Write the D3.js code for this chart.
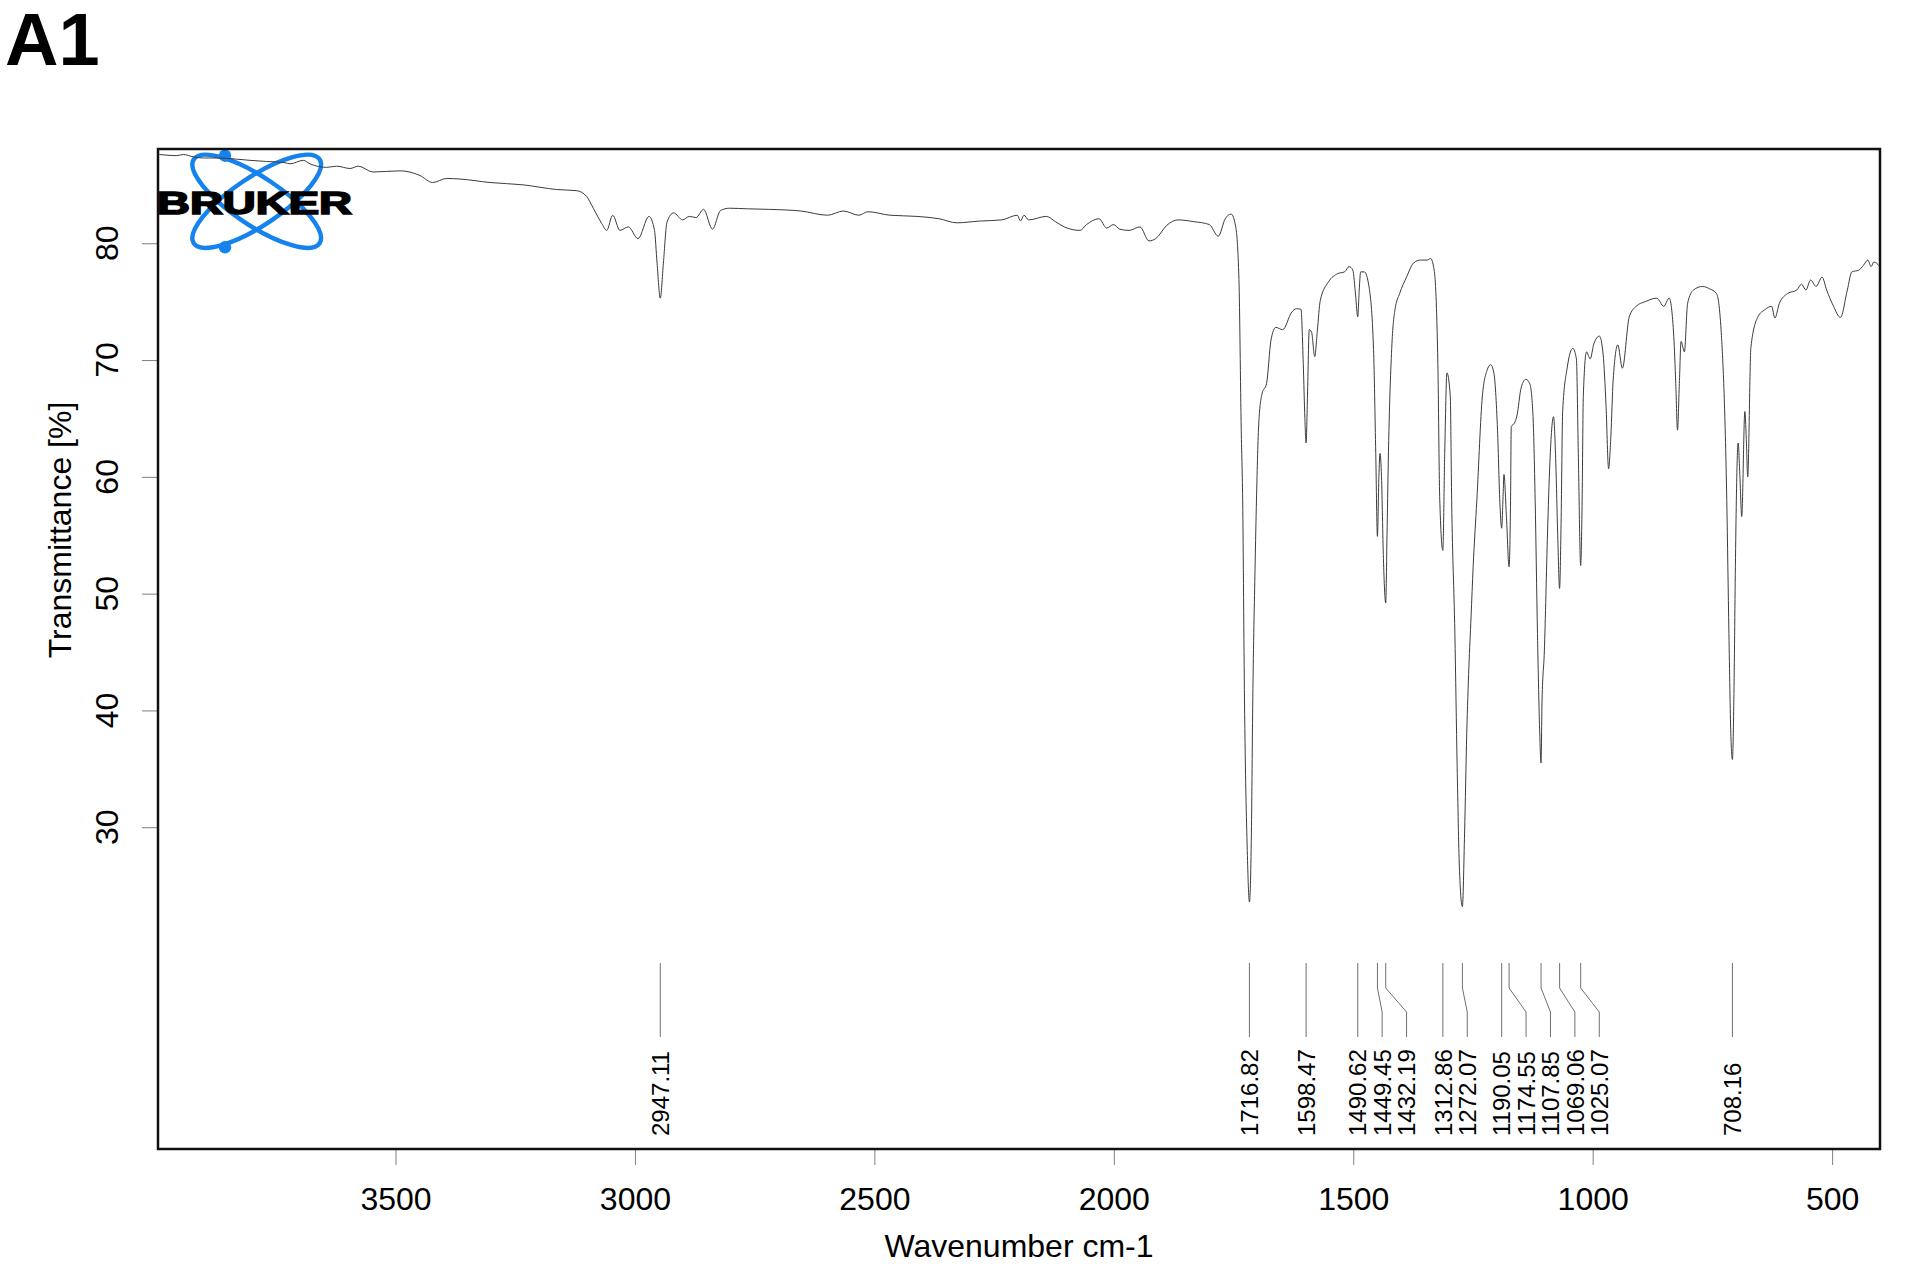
<!DOCTYPE html>
<html>
<head>
<meta charset="utf-8">
<script src="https://cdn.jsdelivr.net/npm/d3@7"></script>
<style>
  body { margin: 0; background: #fff; }
  svg { display: block; font-family: "Liberation Sans", Arial, Helvetica, sans-serif; }
</style>
</head>
<body>
<svg id="chart" width="1920" height="1283"></svg>
<script>
// spectrum: wavenumber (cm-1) / transmittance (%)
const wavenumber = [
  3993.3, 3956.9, 3943.2, 3922.3, 3901.4, 3873.4, 3831.7, 3803.9, 3769.0, 3730.8,
  3720.4, 3692.6, 3678.6, 3643.7, 3622.8, 3595.1, 3577.7, 3547.0, 3490.7, 3448.9,
  3422.4, 3393.1, 3365.4, 3302.7, 3233.2, 3163.4, 3121.7, 3100.8, 3087.0, 3069.5,
  3059.0, 3046.5, 3031.3, 3013.9, 2993.6, 2970.7, 2959.2, 2953.8, 2947.1, 2940.6,
  2933.1, 2919.1, 2900.5, 2886.5, 2872.6, 2856.7, 2838.1, 2821.4, 2802.6, 2765.4,
  2718.8, 2653.5, 2597.6, 2564.9, 2532.2, 2513.6, 2467.4, 2411.0, 2365.1, 2327.5,
  2280.5, 2234.0, 2201.4, 2194.9, 2187.6, 2178.0, 2140.8, 2122.0, 2103.5, 2070.7,
  2056.9, 2031.0, 2014.9, 2000.9, 1987.1, 1968.3, 1945.4, 1926.6, 1912.4, 1889.0,
  1866.0, 1833.0, 1800.5, 1781.9, 1767.3, 1755.0, 1745.4, 1738.7, 1733.9, 1730.9,
  1727.1, 1721.3, 1716.8, 1712.7, 1709.8, 1705.0, 1702.1, 1697.3, 1690.6, 1681.0,
  1671.8, 1661.8, 1647.4, 1628.4, 1618.8, 1609.2, 1604.4, 1601.0, 1598.5, 1595.5,
  1591.9, 1587.1, 1580.4, 1575.0, 1568.9, 1551.6, 1532.4, 1518.2, 1508.6, 1500.9,
  1495.0, 1490.6, 1487.5, 1484.5, 1476.8, 1467.2, 1457.6, 1453.0, 1449.5, 1446.5,
  1444.2, 1441.0, 1437.0, 1432.2, 1429.5, 1426.9, 1419.2, 1412.9, 1403.1, 1388.7,
  1374.2, 1359.8, 1345.4, 1338.7, 1331.0, 1323.3, 1319.5, 1312.9, 1309.0, 1304.3,
  1297.4, 1294.5, 1287.8, 1283.0, 1278.4, 1272.1, 1267.5, 1263.0, 1258.5, 1254.0,
  1249.6, 1241.9, 1230.4, 1220.8, 1213.1, 1206.4, 1198.7, 1193.5, 1190.1, 1187.0,
  1185.3, 1180.0, 1174.6, 1171.5, 1170.0, 1163.4, 1158.6, 1149.0, 1139.4, 1131.6,
  1124.8, 1120.1, 1115.3, 1110.5, 1107.9, 1105.7, 1101.0, 1094.3, 1089.4, 1081.8,
  1077.0, 1073.0, 1069.1, 1066.0, 1062.6, 1053.0, 1041.5, 1034.0, 1030.0, 1025.1,
  1022.0, 1019.6, 1012.9, 1005.2, 997.5, 986.0, 978.2, 972.0, 966.8, 962.0,
  957.2, 947.6, 938.0, 923.6, 909.4, 890.2, 866.1, 851.7, 840.2, 830.6,
  826.5, 822.9, 819.0, 815.4, 808.5, 801.8, 789.5, 770.3, 755.9, 741.5,
  731.9, 720.0, 715.5, 711.5, 708.2, 705.2, 702.0, 700.0, 696.3, 692.5,
  688.8, 682.2, 679.0, 676.3, 669.6, 655.0, 640.9, 626.4, 619.5, 610.2,
  592.8, 573.6, 564.0, 554.8, 545.0, 533.5, 521.0, 511.4, 497.0, 482.6,
  468.2, 458.8, 444.2, 434.8, 425.4, 418.5, 412.9, 401.2
];
const transmittance = [
  87.6, 87.5, 87.6, 87.4, 87.3, 87.3, 87.2, 87.1, 87.0, 86.9,
  86.8, 87.1, 86.8, 86.5, 86.6, 86.4, 86.6, 86.1, 86.2, 85.8,
  85.2, 85.55, 85.5, 85.2, 85.0, 84.6, 84.5, 84.0, 83.0, 81.7,
  81.1, 82.4, 81.1, 81.4, 80.4, 82.3, 81.1, 78.3, 75.3, 78.3,
  81.8, 82.6, 82.0, 82.3, 82.2, 82.9, 81.2, 82.8, 83.0, 82.95,
  82.9, 82.76, 82.4, 82.76, 82.4, 82.7, 82.4, 82.3, 82.1, 81.75,
  81.9, 82.0, 82.4, 81.9, 82.4, 82.0, 82.3, 81.85, 81.4, 81.1,
  81.6, 82.1, 81.3, 81.6, 81.2, 81.1, 81.4, 80.2, 80.4, 81.55,
  82.0, 81.85, 81.6, 80.6, 82.1, 82.5, 81.4, 76.9, 64.0, 58.0,
  40.9, 28.0, 23.6, 29.5, 40.9, 52.3, 58.0, 64.6, 67.1, 68.0,
  71.7, 72.8, 72.6, 74.1, 74.4, 74.35, 69.7, 65.0, 62.9, 67.0,
  72.6, 72.4, 70.3, 72.5, 75.1, 76.7, 77.4, 77.55, 78.0, 77.7,
  75.5, 73.7, 76.0, 77.55, 77.55, 76.3, 70.9, 62.0, 54.9, 60.0,
  62.0, 60.0, 53.0, 49.2, 55.0, 61.2, 71.4, 74.3, 75.7, 77.1,
  78.3, 78.56, 78.56, 78.7, 77.7, 69.7, 58.3, 53.7, 62.0, 68.9,
  66.9, 58.0, 46.6, 35.2, 26.6, 23.2, 29.5, 38.0, 43.7, 48.0,
  52.3, 58.0, 66.9, 69.1, 69.6, 68.9, 64.0, 57.5, 55.6, 58.5,
  60.2, 56.5, 52.3, 58.0, 64.3, 64.6, 65.15, 67.7, 68.35, 68.0,
  65.4, 58.0, 46.6, 38.0, 35.5, 40.9, 45.0, 55.2, 61.2, 65.15,
  61.2, 55.0, 50.45, 56.0, 65.7, 69.4, 71.0, 70.1, 62.0, 52.4,
  58.0, 66.9, 70.7, 70.1, 71.4, 72.05, 70.5, 66.0, 60.7, 63.5,
  68.3, 71.3, 69.3, 73.7, 74.6, 75.0, 75.3, 74.6, 75.3, 72.0,
  68.0, 64.0, 68.0, 71.6, 70.7, 74.85, 76.0, 76.3, 76.1, 75.7,
  72.6, 58.0, 46.6, 38.0, 35.8, 40.9, 52.3, 58.0, 62.9, 60.0,
  56.6, 65.6, 63.0, 60.0, 71.1, 73.7, 74.3, 74.6, 73.6, 74.85,
  75.7, 76.0, 76.5, 76.0, 76.85, 76.3, 77.1, 76.0, 74.6, 73.65,
  76.0, 77.55, 77.7, 78.1, 78.56, 78.0, 78.4, 78.05
];

// picked peaks, as printed under the spectrum
const peakLabels = [2947.11, 1716.82, 1598.47, 1490.62, 1449.45, 1432.19, 1312.86,
  1272.07, 1190.05, 1174.55, 1107.85, 1069.06, 1025.07, 708.16];

const xTicks = [3500, 3000, 2500, 2000, 1500, 1000, 500];
const yTicks = [30, 40, 50, 60, 70, 80];

const svg = d3.select("#chart");

// plot box
const boxLeft = 158, boxRight = 1880, boxTop = 149, boxBottom = 1149;

const x = d3.scaleLinear().domain([3996, 400]).range([boxLeft, boxRight]);
const y = d3.scaleLinear().domain([2.45, 88.07]).range([boxBottom, boxTop]);

// "A1" panel letter
svg.append("text")
  .attr("x", 5)
  .attr("y", 65)
  .attr("font-size", 74)
  .attr("font-weight", "bold")
  .text("A1");

// bruker logo (drawn under the trace)
var logo = svg.append("g").attr("transform", "translate(256.7,201.3)");
[33.7, -33.7].forEach(function (a) {
  logo.append("ellipse")
    .attr("rx", 75.6)
    .attr("ry", 24.1)
    .attr("transform", "rotate(" + a + ")")
    .attr("fill", "none")
    .attr("stroke", "#1583ee")
    .attr("stroke-width", 4.5);
});
[-45.6, 46].forEach(function (dy) {
  logo.append("circle")
    .attr("cx", -31.7)
    .attr("cy", dy)
    .attr("r", 6.2)
    .attr("fill", "#1583ee");
});
svg.append("text")
  .attr("x", 157)
  .attr("y", 214)
  .attr("font-size", 31)
  .attr("font-weight", "bold")
  .attr("textLength", 195)
  .attr("lengthAdjust", "spacingAndGlyphs")
  .attr("fill", "#000")
  .attr("stroke", "#000")
  .attr("stroke-width", 1.6)
  .text("BRUKER");

// x axis
const xAxis = svg.append("g")
  .attr("transform", "translate(0," + boxBottom + ")")
  .call(d3.axisBottom(x).tickValues(xTicks).tickSize(16).tickPadding(22).tickFormat(d3.format("d")));
xAxis.select(".domain").remove();
xAxis.selectAll(".tick line").attr("stroke", "#808080");
xAxis.selectAll(".tick text")
  .attr("font-size", 32)
  .attr("font-family", "'Liberation Sans', Arial, sans-serif")
  .attr("fill", "#000");

// y axis, labels turned like the original
const yAxis = svg.append("g")
  .attr("transform", "translate(" + boxLeft + ",0)")
  .call(d3.axisLeft(y).tickValues(yTicks).tickSize(16).tickFormat(""));
yAxis.select(".domain").remove();
yAxis.selectAll(".tick line").attr("stroke", "#808080");

svg.append("g").selectAll("text")
  .data(yTicks)
  .join("text")
  .attr("transform", function (d) { return "translate(118," + y(d) + ") rotate(-90)"; })
  .attr("text-anchor", "middle")
  .attr("font-size", 32)
  .text(function (d) { return d; });

// axis titles
svg.append("text")
  .attr("x", (boxLeft + boxRight) / 2)
  .attr("y", 1257)
  .attr("text-anchor", "middle")
  .attr("font-size", 32)
  .text("Wavenumber cm-1");

svg.append("text")
  .attr("transform", "translate(71," + 530 + ") rotate(-90)")
  .attr("text-anchor", "middle")
  .attr("font-size", 32)
  .text("Transmittance [%]");

// spectrum
const pts = wavenumber.map(function (w, i) { return [w, transmittance[i]]; });
const line = d3.line()
  .x(function (d) { return x(d[0]); })
  .y(function (d) { return y(d[1]); })
  .curve(d3.curveMonotoneX);

svg.append("path")
  .datum(pts)
  .attr("d", line)
  .attr("fill", "none")
  .attr("stroke", "#3c3c3c")
  .attr("stroke-width", 1);

// peak labels: pushed right so they don't overlap
const gap = 24.4;
var lastX = -Infinity;
const peaks = peakLabels.map(function (p) {
  var px = x(p);
  var lx = Math.max(px, lastX + gap);
  lastX = lx;
  return { value: p, px: px, lx: lx };
});

const pk = svg.append("g");
pk.selectAll("path")
  .data(peaks)
  .join("path")
  .attr("d", function (d) {
    return "M" + d.px + ",963V988L" + d.lx + ",1012V1037";
  })
  .attr("fill", "none")
  .attr("stroke", "#707070")
  .attr("stroke-width", 1);

pk.selectAll("text")
  .data(peaks)
  .join("text")
  .attr("transform", function (d) { return "translate(" + d.lx + ",1136) rotate(-90)"; })
  .attr("dy", "0.36em")
  .attr("font-size", 24)
  .text(function (d) { return d.value.toFixed(2); });

// frame on top
svg.append("rect")
  .attr("x", boxLeft)
  .attr("y", boxTop)
  .attr("width", boxRight - boxLeft)
  .attr("height", boxBottom - boxTop)
  .attr("fill", "none")
  .attr("stroke", "#111")
  .attr("stroke-width", 2.5);
</script>
</body>
</html>
